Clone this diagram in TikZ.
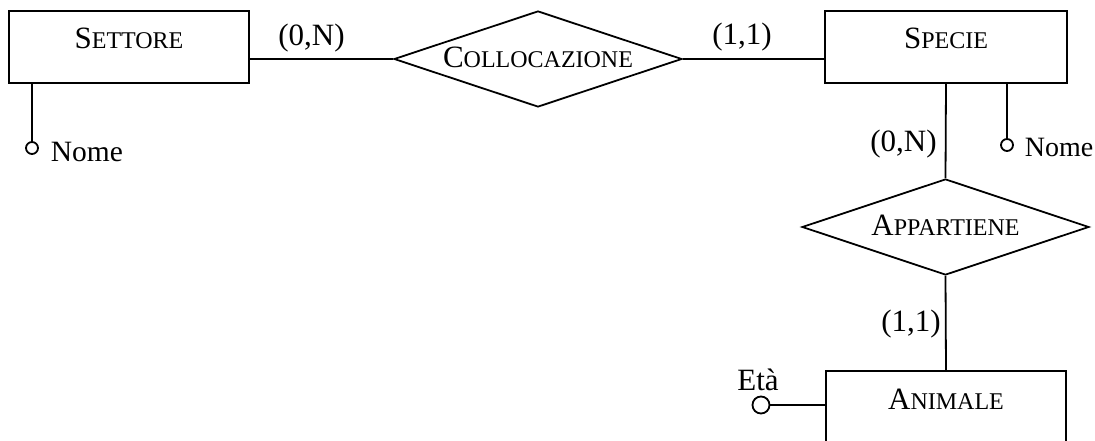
\documentclass[tikz,border=0pt]{standalone}
\usepackage{fontspec}
\setmainfont{Liberation Serif}
\usetikzlibrary{shapes.geometric}
\newcommand\scname[2]{{\fontsize{31}{31}\selectfont #1}{\fontsize{24}{24}\selectfont #2}}
\begin{document}
\begin{tikzpicture}[x=1pt,y=-1pt, line width=1.8pt,
 entity/.style={draw, rectangle, minimum width=240pt, minimum height=72pt, inner sep=0pt, text height=22pt, text depth=18pt},
 relation/.style={draw, diamond, minimum width=288pt, minimum height=96pt, inner sep=0pt, aspect=3, text height=20pt, text depth=3pt},
 attr/.style={draw, circle, minimum size=12pt, inner sep=0pt},
 lbl/.style={font=\fontsize{31}{31}\selectfont, inner sep=0pt, anchor=base}]
\useasboundingbox (0,0) rectangle (1095,441);
\clip (0,0) rectangle (1095,441);
% entities
\node[entity] (settore) at (129,47) {\scname{S}{ETTORE}};
\node[entity, minimum width=242pt] (specie) at (946,47) {\scname{S}{PECIE}};
\node[entity] (animale) at (946,407) {\scname{A}{NIMALE}};
% relations
\node[relation] (coll) at (538,59) {\scname{C}{OLLOCAZIONE}};
\node[relation, minimum width=287pt] (app) at (945.5,227) {\scname{A}{PPARTIENE}};
% connectors
\draw (coll.west) -- (coll.west -| settore.east);
\draw (coll.east) -- (coll.east -| specie.west);
\draw (specie.south) -- (app.north);
\draw (app.south) -- (animale.north);
% attributes
\node[attr] (snome) at (32,148) {};
\draw (snome) -- (snome |- settore.south);
\node[lbl, anchor=base west, font=\fontsize{29.5}{29.5}\selectfont] (snomel) at (50,161) {Nome};
\node[attr] (spnome) at (1007,145) {};
\draw (spnome) -- (spnome |- specie.south);
\node[lbl, anchor=base west, font=\fontsize{28}{28}\selectfont] (spnomel) at (1024,157) {Nome};
\node[attr, minimum size=17pt] (eta) at (761,405) {};
\draw (eta) -- (eta -| animale.west);
\node[lbl] (etal) at (758,390) {Età};
% cardinalities
\node[lbl] (c1) at (311.5,46) {(0,N)};
\node[lbl] (c2) at (742,45) {(1,1)};
\node[lbl] (c3) at (903.5,151) {(0,N)};
\node[lbl] (c4) at (911,331) {(1,1)};
\end{tikzpicture}
\end{document}
